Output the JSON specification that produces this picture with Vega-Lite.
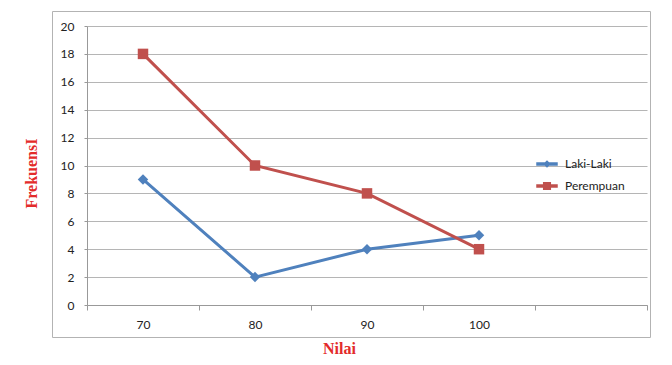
{
  "$schema": "https://vega.github.io/schema/vega-lite/v6.json",
  "autosize": "none",
  "width": 598,
  "height": 326,
  "padding": {"left": 52, "top": 11, "right": 22, "bottom": 28},
  "background": "white",
  "config": {
    "view": {"stroke": "#b3b3b3", "strokeWidth": 1},
    "axis": {"labelFont": "Lato", "labelFontSize": 12, "labelColor": "#222222", "titleFont": "Liberation Serif", "titleFontSize": 16, "titleFontWeight": "bold", "titleColor": "#e32b2b"},
    "legend": {"labelFont": "Lato", "labelFontSize": 12, "labelColor": "#222222"}
  },
  "data": {
    "values": [
      {"nilai": 70, "series": "Laki-Laki", "frekuensi": 9},
      {"nilai": 80, "series": "Laki-Laki", "frekuensi": 2},
      {"nilai": 90, "series": "Laki-Laki", "frekuensi": 4},
      {"nilai": 100, "series": "Laki-Laki", "frekuensi": 5},
      {"nilai": 70, "series": "Perempuan", "frekuensi": 18},
      {"nilai": 80, "series": "Perempuan", "frekuensi": 10},
      {"nilai": 90, "series": "Perempuan", "frekuensi": 8},
      {"nilai": 100, "series": "Perempuan", "frekuensi": 4}
    ]
  },
  "encoding": {
    "x": {
      "field": "nilai",
      "type": "ordinal",
      "bandPosition": 0.5,
      "scale": {"type": "band", "domain": [70, 80, 90, 100, 110], "range": [35, 595], "paddingInner": 0, "paddingOuter": 0},
      "axis": {
        "title": "Nilai",
        "offset": -32,
        "tickBand": "extent",
        "tickSize": 5,
        "tickColor": "#999999",
        "domainColor": "#999999",
        "labelPadding": 9,
        "labelAngle": 0,
        "labelExpr": "datum.value > 100 ? '' : datum.label",
        "grid": false,
        "titleX": 287,
        "titleY": 43,
        "titleBaseline": "middle",
        "titleAnchor": "middle"
      }
    },
    "y": {
      "field": "frekuensi",
      "type": "quantitative",
      "scale": {"domain": [0, 20], "range": [294, 15], "nice": false},
      "axis": {
        "title": "FrekuensI",
        "values": [0, 2, 4, 6, 8, 10, 12, 14, 16, 18, 20],
        "offset": -35,
        "tickSize": 3,
        "tickColor": "#999999",
        "domainColor": "#999999",
        "gridColor": "#b5b5b5",
        "gridOpacity": 1,
        "labelPadding": 10,
        "titleX": -56,
        "titleY": 162,
        "titleAngle": -90,
        "titleBaseline": "middle",
        "titleAnchor": "middle"
      }
    }
  },
  "layer": [
    {
      "transform": [{"filter": "false"}],
      "mark": {"type": "point", "filled": true, "opacity": 1, "size": 182},
      "encoding": {
        "color": {
          "field": "series", "type": "nominal",
          "scale": {"domain": ["Laki-Laki", "Perempuan"], "range": ["#4F81BD", "#C0504D"]},
          "legend": {"title": null, "orient": "none", "legendX": 489, "legendY": 147, "padding": 0, "rowPadding": 9, "labelOffset": 12, "symbolOpacity": 1}
        },
        "shape": {
          "field": "series", "type": "nominal",
          "scale": {"domain": ["Laki-Laki", "Perempuan"], "range": ["M-2,-0.22H2V0.22H-2Z M-0.55,0L0,-0.55L0.55,0L0,0.55Z", "M-2,-0.22H2V0.22H-2Z M-0.66,-0.66H0.66V0.66H-0.66Z"]},
          "legend": {"title": null, "orient": "none", "legendX": 489, "legendY": 147, "padding": 0, "rowPadding": 9, "labelOffset": 12, "symbolOpacity": 1}
        }
      }
    },
    {
      "mark": {"type": "line", "strokeWidth": 3},
      "encoding": {
        "color": {"field": "series", "type": "nominal"}
      }
    },
    {
      "mark": {"type": "point", "filled": true, "opacity": 1, "size": 110},
      "encoding": {
        "color": {"field": "series", "type": "nominal"},
        "shape": {"condition": {"test": "datum.series == 'Laki-Laki'", "value": "diamond"}, "value": "square"}
      }
    }
  ]
}
